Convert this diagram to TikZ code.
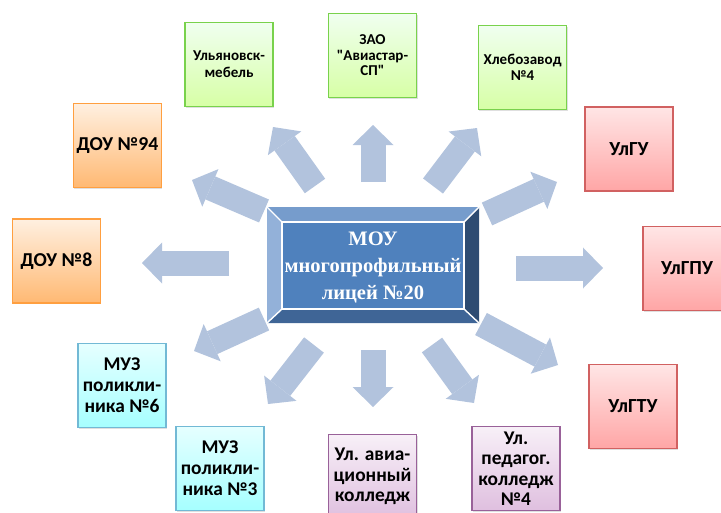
\documentclass[tikz,border=0pt]{standalone}
\usepackage{fontspec}
\setmainfont{Carlito}[Ligatures=TeXOff]
\newfontfamily\lycfont{Liberation Serif}
\usetikzlibrary{arrows.meta}
\usetikzlibrary{shadows}
\definecolor{arrowblue}{HTML}{B2C3DD}
\definecolor{faceblue}{HTML}{4F81BD}
\definecolor{topblue}{HTML}{769CCC}
\definecolor{leftblue}{HTML}{93B1D9}
\definecolor{rightblue}{HTML}{2E4C72}
\definecolor{bottomblue}{HTML}{3F6596}

\begin{document}
\begin{tikzpicture}[x=0.025cm,y=-0.025cm,
    box/.style={minimum width=2.2cm,minimum height=2.1cm,align=center,inner sep=1pt,
      line width=0.85pt,font=\fontsize{14}{15}\selectfont\bfseries,
      drop shadow={opacity=0.25,shadow xshift=0.7pt,shadow yshift=-0.9pt}},
    greenbox/.style={box,font=\fontsize{10.7}{11}\selectfont\bfseries,draw=green!50!olive!70,
      top color=green!6!white,bottom color=green!45!yellow!35!white},
    orangebox/.style={box,draw=orange!75,top color=orange!12!white,bottom color=orange!55!white},
    redbox/.style={box,font=\fontsize{14.2}{15}\selectfont\bfseries,draw=red!55!gray!80,
      top color=red!10!white,bottom color=red!35!white},
    cyanbox/.style={box,font=\fontsize{13.8}{15}\selectfont\bfseries,draw=cyan!60!gray!80,
      top color=cyan!10!white,bottom color=cyan!35!white},
    violetbox/.style={box,font=\fontsize{13.8}{14.6}\selectfont\bfseries,draw=violet!55!gray!80,
      top color=violet!6!white,bottom color=violet!25!white},
    bigarrow/.style={line width=0.625cm,draw=arrowblue,
      -{Triangle[length=0.5cm,width=1.025cm,line width=0pt]}}]
    \useasboundingbox (0,0) rectangle (721,512);
    % Arrows
    \coordinate (s1) at (373,182);  \coordinate (e1) at (373,125);
    \coordinate (s2) at (315,186);  \coordinate (e2) at (273,127);
    \coordinate (s3) at (433,186);  \coordinate (e3) at (477,128);
    \coordinate (s4) at (264,211);  \coordinate (e4) at (192,180);
    \coordinate (s5) at (229,263);  \coordinate (e5) at (142,263);
    \coordinate (s6) at (264,319);  \coordinate (e6) at (194,351);
    \coordinate (s7) at (314,345);  \coordinate (e7) at (268,404);
    \coordinate (s8) at (373,350);  \coordinate (e8) at (373,407);
    \coordinate (s9) at (432,345);  \coordinate (e9) at (474,403);
    \coordinate (s10) at (481,324); \coordinate (e10) at (558,365);
    \coordinate (s11) at (487,214); \coordinate (e11) at (557,182);
    \coordinate (s12) at (516,268); \coordinate (e12) at (603,268);
    \foreach \i in {1,...,12}
      \draw[bigarrow] (s\i) -- (e\i);
    % Centre block
    \fill[faceblue] (282,222) rectangle (464,309);
    \fill[topblue] (267,207) -- (479,207) -- (464,222) -- (282,222) -- cycle;
    \fill[leftblue] (267,207) -- (282,222) -- (282,309) -- (267,323) -- cycle;
    \fill[rightblue] (479,207) -- (479,323) -- (464,309) -- (464,222) -- cycle;
    \fill[bottomblue] (267,323) -- (479,323) -- (464,309) -- (282,309) -- cycle;
    \draw[white,line width=1pt] (282,222) rectangle (464,309);
    \draw[white,line width=1pt] (267,207) to (282,222);
    \draw[white,line width=1pt] (479,207) to (464,222);
    \draw[white,line width=1pt] (479,323) to (464,309);
    \draw[white,line width=1pt] (267,323) to (282,309);
    \node[align=center,text=white,font=\lycfont\bfseries\fontsize{14.6}{19.2}\selectfont] (lyceum) at (373,267) {МОУ\\многопрофильный\\лицей №20};
    % Top row
    \node[greenbox] (mebel) at (229,64.5) {Ульяновск-\\[1pt]мебель};
    \node[greenbox] (aviastar) at (372.5,55.5) {ЗАО\\"Авиастар-\\СП"};
    \node[greenbox] (hleb) at (522.5,67.5) {Хлебозавод\\№4};
    % Left side
    \node[orangebox] (dou94) at (117.5,145.5) {ДОУ №94};
    \node[orangebox] (dou8) at (56.5,261) {ДОУ №8};
    \node[cyanbox] (muz6) at (122,385.5) {МУЗ\\поликли-\\ника №6};
    \node[cyanbox] (muz3) at (220,468.5) {МУЗ\\поликли-\\ника №3};
    % Bottom row
    \node[violetbox] (aviak) at (372.5,476.5) {Ул. авиа-\\ционный\\колледж};
    \node[violetbox] (pedk) at (516,468.5) {Ул.\\педагог.\\колледж\\№4};
    % Right side
    \node[redbox] (ulgu) at (629,149) {УлГУ};
    \node[redbox] (ulgpu) at (687,268.5) {УлГПУ};
    \node[redbox] (ulgtu) at (633,406.5) {УлГТУ};
\end{tikzpicture}
\end{document}
